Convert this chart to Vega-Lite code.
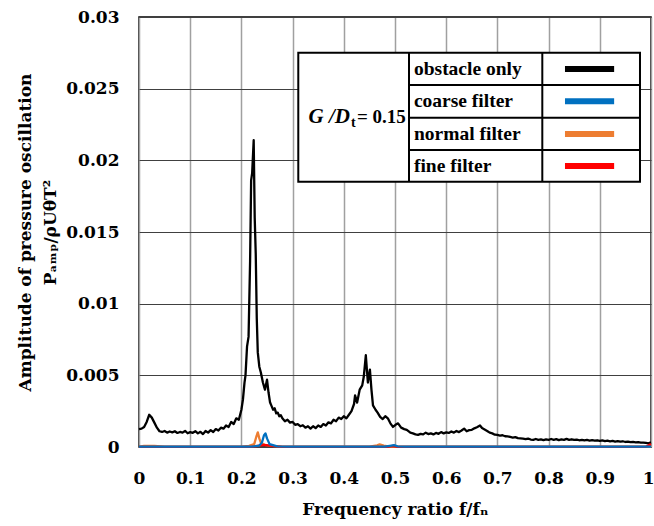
{
  "$schema": "https://vega.github.io/schema/vega-lite/v6.json",
  "width": 512,
  "height": 430,
  "autosize": {"type": "none"},
  "padding": {"left": 139, "top": 17, "right": 3, "bottom": 79},
  "background": "white",
  "config": {
    "view": {"stroke": "#000000", "strokeWidth": 1.5},
    "axis": {"labelFont": "DejaVu Serif", "labelFontWeight": "bold", "labelFontSize": 17, "labelColor": "#000000",
             "titleFont": "DejaVu Serif", "titleFontWeight": "bold", "titleFontSize": 17, "titleColor": "#000000",
             "ticks": false, "domain": false}
  },
  "datasets": {
    "series": [
      {"s":"obstacle only","f":0.000,"a":0.00125},{"s":"obstacle only","f":0.005,"a":0.00128},{"s":"obstacle only","f":0.010,"a":0.00140},{"s":"obstacle only","f":0.015,"a":0.00175},{"s":"obstacle only","f":0.020,"a":0.00225},{"s":"obstacle only","f":0.025,"a":0.00205},{"s":"obstacle only","f":0.030,"a":0.00170},{"s":"obstacle only","f":0.035,"a":0.00135},{"s":"obstacle only","f":0.040,"a":0.00110},{"s":"obstacle only","f":0.045,"a":0.00105},{"s":"obstacle only","f":0.050,"a":0.00112},{"s":"obstacle only","f":0.055,"a":0.00100},{"s":"obstacle only","f":0.060,"a":0.00108},{"s":"obstacle only","f":0.065,"a":0.00102},{"s":"obstacle only","f":0.070,"a":0.00110},{"s":"obstacle only","f":0.075,"a":0.00098},{"s":"obstacle only","f":0.080,"a":0.00105},{"s":"obstacle only","f":0.085,"a":0.00100},{"s":"obstacle only","f":0.090,"a":0.00112},{"s":"obstacle only","f":0.095,"a":0.00096},{"s":"obstacle only","f":0.100,"a":0.00104},{"s":"obstacle only","f":0.105,"a":0.00099},{"s":"obstacle only","f":0.110,"a":0.00110},{"s":"obstacle only","f":0.115,"a":0.00095},{"s":"obstacle only","f":0.120,"a":0.00106},{"s":"obstacle only","f":0.125,"a":0.00090},{"s":"obstacle only","f":0.130,"a":0.00112},{"s":"obstacle only","f":0.135,"a":0.00100},{"s":"obstacle only","f":0.140,"a":0.00118},{"s":"obstacle only","f":0.145,"a":0.00105},{"s":"obstacle only","f":0.150,"a":0.00125},{"s":"obstacle only","f":0.155,"a":0.00115},{"s":"obstacle only","f":0.160,"a":0.00135},{"s":"obstacle only","f":0.165,"a":0.00128},{"s":"obstacle only","f":0.170,"a":0.00150},{"s":"obstacle only","f":0.175,"a":0.00140},{"s":"obstacle only","f":0.180,"a":0.00175},{"s":"obstacle only","f":0.185,"a":0.00160},{"s":"obstacle only","f":0.190,"a":0.00200},{"s":"obstacle only","f":0.195,"a":0.00190},{"s":"obstacle only","f":0.200,"a":0.00260},{"s":"obstacle only","f":0.203,"a":0.00330},{"s":"obstacle only","f":0.206,"a":0.00447},{"s":"obstacle only","f":0.208,"a":0.00500},{"s":"obstacle only","f":0.211,"a":0.00700},{"s":"obstacle only","f":0.214,"a":0.00770},{"s":"obstacle only","f":0.217,"a":0.01300},{"s":"obstacle only","f":0.219,"a":0.01860},{"s":"obstacle only","f":0.221,"a":0.01910},{"s":"obstacle only","f":0.224,"a":0.02140},{"s":"obstacle only","f":0.226,"a":0.01600},{"s":"obstacle only","f":0.228,"a":0.01350},{"s":"obstacle only","f":0.230,"a":0.00900},{"s":"obstacle only","f":0.232,"a":0.00660},{"s":"obstacle only","f":0.235,"a":0.00560},{"s":"obstacle only","f":0.238,"a":0.00520},{"s":"obstacle only","f":0.242,"a":0.00450},{"s":"obstacle only","f":0.246,"a":0.00400},{"s":"obstacle only","f":0.250,"a":0.00470},{"s":"obstacle only","f":0.253,"a":0.00380},{"s":"obstacle only","f":0.256,"a":0.00310},{"s":"obstacle only","f":0.259,"a":0.00285},{"s":"obstacle only","f":0.262,"a":0.00260},{"s":"obstacle only","f":0.265,"a":0.00270},{"s":"obstacle only","f":0.268,"a":0.00235},{"s":"obstacle only","f":0.271,"a":0.00240},{"s":"obstacle only","f":0.274,"a":0.00215},{"s":"obstacle only","f":0.277,"a":0.00222},{"s":"obstacle only","f":0.280,"a":0.00200},{"s":"obstacle only","f":0.285,"a":0.00180},{"s":"obstacle only","f":0.290,"a":0.00190},{"s":"obstacle only","f":0.295,"a":0.00170},{"s":"obstacle only","f":0.300,"a":0.00175},{"s":"obstacle only","f":0.305,"a":0.00155},{"s":"obstacle only","f":0.310,"a":0.00160},{"s":"obstacle only","f":0.315,"a":0.00145},{"s":"obstacle only","f":0.320,"a":0.00152},{"s":"obstacle only","f":0.325,"a":0.00135},{"s":"obstacle only","f":0.330,"a":0.00145},{"s":"obstacle only","f":0.335,"a":0.00128},{"s":"obstacle only","f":0.340,"a":0.00145},{"s":"obstacle only","f":0.345,"a":0.00132},{"s":"obstacle only","f":0.350,"a":0.00150},{"s":"obstacle only","f":0.355,"a":0.00140},{"s":"obstacle only","f":0.360,"a":0.00160},{"s":"obstacle only","f":0.365,"a":0.00150},{"s":"obstacle only","f":0.370,"a":0.00172},{"s":"obstacle only","f":0.375,"a":0.00165},{"s":"obstacle only","f":0.380,"a":0.00190},{"s":"obstacle only","f":0.385,"a":0.00180},{"s":"obstacle only","f":0.390,"a":0.00205},{"s":"obstacle only","f":0.395,"a":0.00195},{"s":"obstacle only","f":0.400,"a":0.00215},{"s":"obstacle only","f":0.405,"a":0.00200},{"s":"obstacle only","f":0.410,"a":0.00225},{"s":"obstacle only","f":0.415,"a":0.00250},{"s":"obstacle only","f":0.420,"a":0.00300},{"s":"obstacle only","f":0.422,"a":0.00360},{"s":"obstacle only","f":0.426,"a":0.00310},{"s":"obstacle only","f":0.431,"a":0.00400},{"s":"obstacle only","f":0.436,"a":0.00430},{"s":"obstacle only","f":0.439,"a":0.00490},{"s":"obstacle only","f":0.443,"a":0.00640},{"s":"obstacle only","f":0.447,"a":0.00450},{"s":"obstacle only","f":0.451,"a":0.00540},{"s":"obstacle only","f":0.454,"a":0.00400},{"s":"obstacle only","f":0.457,"a":0.00290},{"s":"obstacle only","f":0.462,"a":0.00260},{"s":"obstacle only","f":0.466,"a":0.00240},{"s":"obstacle only","f":0.471,"a":0.00210},{"s":"obstacle only","f":0.476,"a":0.00195},{"s":"obstacle only","f":0.481,"a":0.00215},{"s":"obstacle only","f":0.486,"a":0.00200},{"s":"obstacle only","f":0.491,"a":0.00165},{"s":"obstacle only","f":0.496,"a":0.00140},{"s":"obstacle only","f":0.501,"a":0.00155},{"s":"obstacle only","f":0.506,"a":0.00165},{"s":"obstacle only","f":0.512,"a":0.00135},{"s":"obstacle only","f":0.518,"a":0.00125},{"s":"obstacle only","f":0.523,"a":0.00120},{"s":"obstacle only","f":0.530,"a":0.00100},{"s":"obstacle only","f":0.535,"a":0.00095},{"s":"obstacle only","f":0.540,"a":0.00088},{"s":"obstacle only","f":0.545,"a":0.00085},{"s":"obstacle only","f":0.550,"a":0.00092},{"s":"obstacle only","f":0.555,"a":0.00088},{"s":"obstacle only","f":0.560,"a":0.00100},{"s":"obstacle only","f":0.565,"a":0.00090},{"s":"obstacle only","f":0.570,"a":0.00095},{"s":"obstacle only","f":0.575,"a":0.00088},{"s":"obstacle only","f":0.580,"a":0.00098},{"s":"obstacle only","f":0.585,"a":0.00092},{"s":"obstacle only","f":0.590,"a":0.00104},{"s":"obstacle only","f":0.595,"a":0.00095},{"s":"obstacle only","f":0.600,"a":0.00102},{"s":"obstacle only","f":0.605,"a":0.00098},{"s":"obstacle only","f":0.610,"a":0.00108},{"s":"obstacle only","f":0.615,"a":0.00100},{"s":"obstacle only","f":0.620,"a":0.00112},{"s":"obstacle only","f":0.625,"a":0.00104},{"s":"obstacle only","f":0.630,"a":0.00115},{"s":"obstacle only","f":0.635,"a":0.00128},{"s":"obstacle only","f":0.640,"a":0.00110},{"s":"obstacle only","f":0.645,"a":0.00118},{"s":"obstacle only","f":0.650,"a":0.00120},{"s":"obstacle only","f":0.655,"a":0.00130},{"s":"obstacle only","f":0.660,"a":0.00138},{"s":"obstacle only","f":0.666,"a":0.00150},{"s":"obstacle only","f":0.670,"a":0.00132},{"s":"obstacle only","f":0.675,"a":0.00122},{"s":"obstacle only","f":0.680,"a":0.00112},{"s":"obstacle only","f":0.685,"a":0.00100},{"s":"obstacle only","f":0.690,"a":0.00095},{"s":"obstacle only","f":0.695,"a":0.00086},{"s":"obstacle only","f":0.700,"a":0.00084},{"s":"obstacle only","f":0.705,"a":0.00080},{"s":"obstacle only","f":0.710,"a":0.00082},{"s":"obstacle only","f":0.715,"a":0.00075},{"s":"obstacle only","f":0.720,"a":0.00074},{"s":"obstacle only","f":0.725,"a":0.00070},{"s":"obstacle only","f":0.730,"a":0.00066},{"s":"obstacle only","f":0.735,"a":0.00069},{"s":"obstacle only","f":0.740,"a":0.00062},{"s":"obstacle only","f":0.745,"a":0.00060},{"s":"obstacle only","f":0.750,"a":0.00058},{"s":"obstacle only","f":0.755,"a":0.00055},{"s":"obstacle only","f":0.760,"a":0.00059},{"s":"obstacle only","f":0.765,"a":0.00052},{"s":"obstacle only","f":0.770,"a":0.00050},{"s":"obstacle only","f":0.775,"a":0.00056},{"s":"obstacle only","f":0.780,"a":0.00050},{"s":"obstacle only","f":0.785,"a":0.00053},{"s":"obstacle only","f":0.790,"a":0.00048},{"s":"obstacle only","f":0.795,"a":0.00053},{"s":"obstacle only","f":0.800,"a":0.00050},{"s":"obstacle only","f":0.805,"a":0.00056},{"s":"obstacle only","f":0.810,"a":0.00050},{"s":"obstacle only","f":0.815,"a":0.00055},{"s":"obstacle only","f":0.820,"a":0.00048},{"s":"obstacle only","f":0.825,"a":0.00053},{"s":"obstacle only","f":0.830,"a":0.00050},{"s":"obstacle only","f":0.835,"a":0.00057},{"s":"obstacle only","f":0.840,"a":0.00050},{"s":"obstacle only","f":0.845,"a":0.00054},{"s":"obstacle only","f":0.850,"a":0.00050},{"s":"obstacle only","f":0.855,"a":0.00052},{"s":"obstacle only","f":0.860,"a":0.00047},{"s":"obstacle only","f":0.865,"a":0.00050},{"s":"obstacle only","f":0.870,"a":0.00046},{"s":"obstacle only","f":0.875,"a":0.00049},{"s":"obstacle only","f":0.880,"a":0.00045},{"s":"obstacle only","f":0.885,"a":0.00048},{"s":"obstacle only","f":0.890,"a":0.00044},{"s":"obstacle only","f":0.895,"a":0.00047},{"s":"obstacle only","f":0.900,"a":0.00043},{"s":"obstacle only","f":0.905,"a":0.00046},{"s":"obstacle only","f":0.910,"a":0.00041},{"s":"obstacle only","f":0.915,"a":0.00044},{"s":"obstacle only","f":0.920,"a":0.00040},{"s":"obstacle only","f":0.925,"a":0.00043},{"s":"obstacle only","f":0.930,"a":0.00038},{"s":"obstacle only","f":0.935,"a":0.00041},{"s":"obstacle only","f":0.940,"a":0.00037},{"s":"obstacle only","f":0.945,"a":0.00040},{"s":"obstacle only","f":0.950,"a":0.00035},{"s":"obstacle only","f":0.955,"a":0.00038},{"s":"obstacle only","f":0.960,"a":0.00034},{"s":"obstacle only","f":0.965,"a":0.00036},{"s":"obstacle only","f":0.970,"a":0.00032},{"s":"obstacle only","f":0.975,"a":0.00034},{"s":"obstacle only","f":0.980,"a":0.00030},{"s":"obstacle only","f":0.985,"a":0.00031},{"s":"obstacle only","f":0.990,"a":0.00028},{"s":"obstacle only","f":0.995,"a":0.00025},{"s":"obstacle only","f":1.000,"a":0.00032},
      {"s":"normal filter","f":0.000,"a":0.00003},{"s":"normal filter","f":0.010,"a":0.00008},{"s":"normal filter","f":0.030,"a":0.00008},{"s":"normal filter","f":0.050,"a":0.00003},{"s":"normal filter","f":0.200,"a":0.00003},{"s":"normal filter","f":0.215,"a":0.00008},{"s":"normal filter","f":0.225,"a":0.00020},{"s":"normal filter","f":0.229,"a":0.00070},{"s":"normal filter","f":0.232,"a":0.00102},{"s":"normal filter","f":0.235,"a":0.00060},{"s":"normal filter","f":0.238,"a":0.00030},{"s":"normal filter","f":0.245,"a":0.00015},{"s":"normal filter","f":0.260,"a":0.00008},{"s":"normal filter","f":0.280,"a":0.00003},{"s":"normal filter","f":0.450,"a":0.00003},{"s":"normal filter","f":0.465,"a":0.00012},{"s":"normal filter","f":0.470,"a":0.00018},{"s":"normal filter","f":0.478,"a":0.00010},{"s":"normal filter","f":0.490,"a":0.00003},{"s":"normal filter","f":1.000,"a":0.00003},
      {"s":"fine filter","f":0.000,"a":0.00001},{"s":"fine filter","f":0.220,"a":0.00001},{"s":"fine filter","f":0.235,"a":0.00010},{"s":"fine filter","f":0.245,"a":0.00015},{"s":"fine filter","f":0.260,"a":0.00008},{"s":"fine filter","f":0.280,"a":0.00001},{"s":"fine filter","f":0.485,"a":0.00001},{"s":"fine filter","f":0.495,"a":0.00008},{"s":"fine filter","f":0.505,"a":0.00001},{"s":"fine filter","f":0.990,"a":0.00001},{"s":"fine filter","f":1.000,"a":0.00020},
      {"s":"coarse filter","f":0.000,"a":0.00002},{"s":"coarse filter","f":0.220,"a":0.00002},{"s":"coarse filter","f":0.235,"a":0.00010},{"s":"coarse filter","f":0.240,"a":0.00030},{"s":"coarse filter","f":0.244,"a":0.00080},{"s":"coarse filter","f":0.247,"a":0.00095},{"s":"coarse filter","f":0.250,"a":0.00060},{"s":"coarse filter","f":0.255,"a":0.00020},{"s":"coarse filter","f":0.270,"a":0.00005},{"s":"coarse filter","f":0.290,"a":0.00002},{"s":"coarse filter","f":0.480,"a":0.00002},{"s":"coarse filter","f":0.493,"a":0.00010},{"s":"coarse filter","f":0.498,"a":0.00013},{"s":"coarse filter","f":0.505,"a":0.00005},{"s":"coarse filter","f":0.520,"a":0.00002},{"s":"coarse filter","f":1.000,"a":0.00002}
    ],
    "tableBox": [{"x1": 0.3111, "x2": 0.9785, "y1": 0.01851, "y2": 0.02751}],
    "tableRules": [
      {"x1": 0.5273, "x2": 0.5273, "y1": 0.01851, "y2": 0.02751},
      {"x1": 0.7877, "x2": 0.7877, "y1": 0.01851, "y2": 0.02751},
      {"x1": 0.5273, "x2": 0.9785, "y1": 0.02526, "y2": 0.02526},
      {"x1": 0.5273, "x2": 0.9785, "y1": 0.02297, "y2": 0.02297},
      {"x1": 0.5273, "x2": 0.9785, "y1": 0.02072, "y2": 0.02072}
    ],
    "legendRows": [
      {"s": "obstacle only", "tx": 0.537, "x1": 0.832, "x2": 0.928, "y": 0.02638},
      {"s": "coarse filter", "tx": 0.537, "x1": 0.832, "x2": 0.928, "y": 0.02412},
      {"s": "normal filter", "tx": 0.537, "x1": 0.832, "x2": 0.928, "y": 0.02184},
      {"s": "fine filter", "tx": 0.537, "x1": 0.832, "x2": 0.928, "y": 0.01961}
    ],
    "gdLabel": [{"x": 0.4121, "x2": 0.4141, "x3": 0.4258, "y": 0.02302}]
  },
  "layer": [
    {
      "data": {"name": "tableBox"},
      "mark": {"type": "rect", "fill": "white", "stroke": "#000000", "strokeWidth": 2},
      "encoding": {
        "x": {"field": "x1", "type": "quantitative", "scale": {"domain": [0, 1]},
              "axis": {"values": [0,0.1,0.2,0.3,0.4,0.5,0.6,0.7,0.8,0.9,1], "format": "~g", "grid": true, "gridColor": "#a0a0a0", "gridWidth": 1.5, "labelPadding": 23, "labelFlush": false,
                       "labelAlign": {"condition": {"test": "datum.value == 1", "value": "right"}, "value": "center"},
                       "labelOffset": {"condition": {"test": "datum.value == 1", "value": 3}, "value": 0},
                       "title": "Frequency ratio  f/fₙ", "titlePadding": 15}},
        "x2": {"field": "x2"},
        "y": {"field": "y1", "type": "quantitative", "scale": {"domain": [0, 0.03]},
              "axis": {"values": [0,0.005,0.01,0.015,0.02,0.025,0.03], "format": "~g", "grid": true, "gridColor": "#404040", "gridWidth": 1, "labelPadding": 20, "labelFlush": false,
                       "title": ["Amplitude of pressure oscillation", "Pₐₘₚ/ρUθT²"], "titlePadding": 6, "titleLineHeight": 25}},
        "y2": {"field": "y2"}
      }
    },
    {
      "data": {"name": "tableRules"},
      "mark": {"type": "rule", "stroke": "#000000", "strokeWidth": 2},
      "encoding": {
        "x": {"field": "x1", "type": "quantitative"},
        "x2": {"field": "x2"},
        "y": {"field": "y1", "type": "quantitative"},
        "y2": {"field": "y2"}
      }
    },
    {
      "data": {"name": "series"},
      "mark": {"type": "line", "strokeWidth": 2.3, "strokeJoin": "round"},
      "encoding": {
        "x": {"field": "f", "type": "quantitative"},
        "y": {"field": "a", "type": "quantitative"},
        "color": {"field": "s", "type": "nominal", "legend": null,
                  "scale": {"domain": ["obstacle only", "coarse filter", "normal filter", "fine filter"], "range": ["#000000", "#0070C0", "#ED7D31", "#FF0000"]}},
        "detail": {"field": "s"}
      }
    },
    {
      "data": {"name": "legendRows"},
      "mark": {"type": "rule", "strokeWidth": 6},
      "encoding": {
        "x": {"field": "x1", "type": "quantitative"},
        "x2": {"field": "x2"},
        "y": {"field": "y", "type": "quantitative"},
        "color": {"field": "s", "type": "nominal", "legend": null}
      }
    },
    {
      "data": {"name": "legendRows"},
      "mark": {"type": "text", "align": "left", "baseline": "middle", "font": "Liberation Serif", "fontWeight": "bold", "fontSize": 19.5, "color": "#000000"},
      "encoding": {
        "x": {"field": "tx", "type": "quantitative"},
        "y": {"field": "y", "type": "quantitative"},
        "text": {"field": "s"}
      }
    },
    {
      "data": {"name": "gdLabel"},
      "mark": {"type": "text", "align": "right", "baseline": "middle", "font": "Liberation Serif", "fontWeight": "bold", "fontStyle": "italic", "fontSize": 21, "color": "#000000", "text": "G /D"},
      "encoding": {
        "x": {"field": "x", "type": "quantitative"},
        "y": {"field": "y", "type": "quantitative"}
      }
    },
    {
      "data": {"name": "gdLabel"},
      "mark": {"type": "text", "align": "left", "baseline": "middle", "font": "Liberation Serif", "fontWeight": "bold", "fontSize": 14, "dy": 6, "color": "#000000", "text": "t"},
      "encoding": {
        "x": {"field": "x2", "type": "quantitative"},
        "y": {"field": "y", "type": "quantitative"}
      }
    },
    {
      "data": {"name": "gdLabel"},
      "mark": {"type": "text", "align": "left", "baseline": "middle", "font": "Liberation Serif", "fontWeight": "bold", "fontSize": 19, "color": "#000000", "text": "= 0.15"},
      "encoding": {
        "x": {"field": "x3", "type": "quantitative"},
        "y": {"field": "y", "type": "quantitative"}
      }
    }
  ]
}
